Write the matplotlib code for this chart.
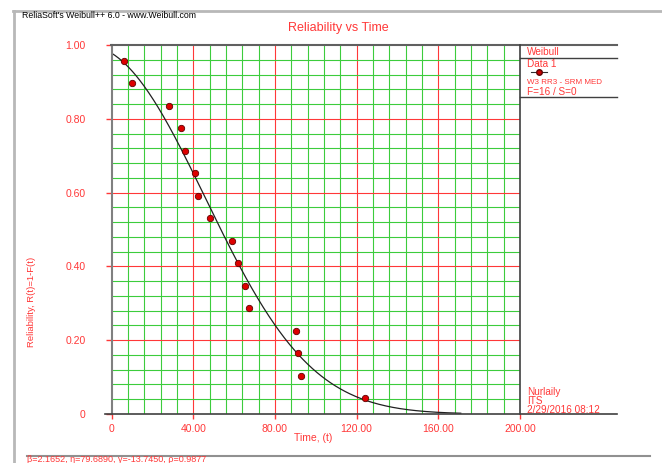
"""Reliability vs Time plot in the style of Weibull++ 6."""

import matplotlib
matplotlib.use("Agg")
import matplotlib.pyplot as plt
import numpy as np
from matplotlib.lines import Line2D

times = [6.1, 10.0, 28.2, 34.0, 36.2, 41.0, 42.2, 48.1,
         59.0, 61.9, 65.2, 67.2, 90.2, 91.2, 92.9, 124.0]
reliability = [0.957, 0.896, 0.835, 0.774, 0.713, 0.652, 0.591, 0.530,
               0.470, 0.409, 0.348, 0.287, 0.226, 0.165, 0.104, 0.043]

# fitted 3-parameter Weibull, as printed under the plot
beta = 2.1652
eta = 79.6890
gamma = -13.7450
rho = 0.9877
t_end = 171.0

x_ticks = [0, 40, 80, 120, 160, 200]
x_tick_labels = ["0", "40.00", "80.00", "120.00", "160.00", "200.00"]
y_ticks = [0, 0.2, 0.4, 0.6, 0.8, 1.0]
y_tick_labels = ["0", "0.20", "0.40", "0.60", "0.80", "1.00"]

RED = "#ff3838"
GREEN = "#3ccc3c"
W, H = 662, 463

plt.rcParams['font.family'] = ['Liberation Sans', 'DejaVu Sans']

fig = plt.figure(figsize=(W / 100, H / 100), dpi=100)


def px(x, y):
    """Pixel position (from top-left) to figure fraction."""
    return x / W, 1 - y / H


def hline(y, x0, x1, color, lw=1.0):
    a, b = px(x0, y)
    c, d = px(x1, y)
    fig.add_artist(Line2D([a, c], [b, d], color=color, lw=lw))


def vline(x, y0, y1, color, lw=1.0):
    a, b = px(x, y0)
    c, d = px(x, y1)
    fig.add_artist(Line2D([a, c], [b, d], color=color, lw=lw))


def ftext(x, y, s, **kw):
    a, b = px(x, y)
    fig.text(a, b, s, **kw)


left, top = px(111.5, 45)
right, bottom = px(520, 414)
ax = fig.add_axes([left, bottom, right - left, top - bottom])
ax.set_xlim(0, 200)
ax.set_ylim(0, 1.0)

# grid: minor every 8 / 0.04 in green, major every 40 / 0.2 in red
for t in np.arange(8, 200, 8):
    ax.axvline(t, color=RED if t % 40 == 0 else GREEN, lw=0.8, zorder=1)
for r in np.arange(1, 25) * 0.04:
    major = abs(r / 0.2 - round(r / 0.2)) < 1e-6
    ax.axhline(r, color=RED if major else GREEN, lw=0.8, zorder=1)

t = np.linspace(0, t_end, 300)
R = np.exp(-((t - gamma) / eta) ** beta)
ax.plot(t, R, color="#202020", lw=0.9, zorder=3)
ax.plot(times, reliability, 'o', color="#dd0000", markeredgecolor="#600000",
        markersize=4.6, markeredgewidth=0.6, zorder=4)

ax.set_xticks(x_ticks)
ax.set_xticklabels(x_tick_labels)
ax.set_yticks(y_ticks)
ax.set_yticklabels(y_tick_labels)
ax.tick_params(axis='both', colors=RED, labelcolor=RED, labelsize=7.5, width=1)
ax.tick_params(axis='y', length=4.3, pad=14.5)
ax.tick_params(axis='x', length=3.6, pad=3.5)
for s in ax.spines.values():
    s.set_visible(False)
ax.axvline(0, color="#808080", lw=1.5, zorder=5, clip_on=False)

# frame and legend panel
hline(11, 13, 662, "#b8b8b8", 2)
vline(13.5, 11, 463, "#b8b8b8", 2)
hline(455.5, 27, 650, "#909090", 1.5)
hline(45, 111, 617, "#606060", 1.5)
hline(414, 105, 617, "#404040", 1.2)
vline(520, 45, 414, "#404040", 1.2)
hline(58, 520, 617, "#404040", 1.0)
hline(97, 520, 617, "#404040", 1.0)

ftext(22, 16, "ReliaSoft's Weibull++ 6.0 - www.Weibull.com", fontsize=6.3,
      color="black", va="center")
ftext(338, 28, "Reliability vs Time", fontsize=9, color=RED, ha="center",
      va="center")
ftext(313, 438, "Time, (t)", fontsize=7.5, color=RED, ha="center", va="center")
ftext(31, 302, "Reliability, R(t)=1-F(t)", fontsize=6.8, color=RED,
      rotation=90, ha="center", va="center")

ftext(527, 52, "Weibull", fontsize=7.2, color=RED, va="center")
ftext(527, 64, "Data 1", fontsize=7.2, color=RED, va="center")
a, b = px(531, 72)
c, _ = px(547, 72)
fig.add_artist(Line2D([a, c], [b, b], color="#303030", lw=0.8))
m, _ = px(539, 72)
fig.add_artist(Line2D([m], [b], marker='o', color="#cc0000",
                      markeredgecolor="#600000", markersize=4))
ftext(527, 83, "W3 RR3 - SRM MED", fontsize=5.8, color=RED, va="center")
ftext(527, 92, "F=16 / S=0", fontsize=7.2, color=RED, va="center")

ftext(527, 392, "Nurlaily", fontsize=7.2, color=RED, va="center")
ftext(527, 401, "ITS", fontsize=7.2, color=RED, va="center")
ftext(527, 410, "2/29/2016 08:12", fontsize=7.2, color=RED, va="center")

ftext(27, 459.5, "β=%.4f, η=%.4f, γ=%.4f, ρ=%.4f" % (beta, eta, gamma, rho),
      fontsize=6.5, color=RED, va="center")

fig.savefig("out.png", dpi=100)
